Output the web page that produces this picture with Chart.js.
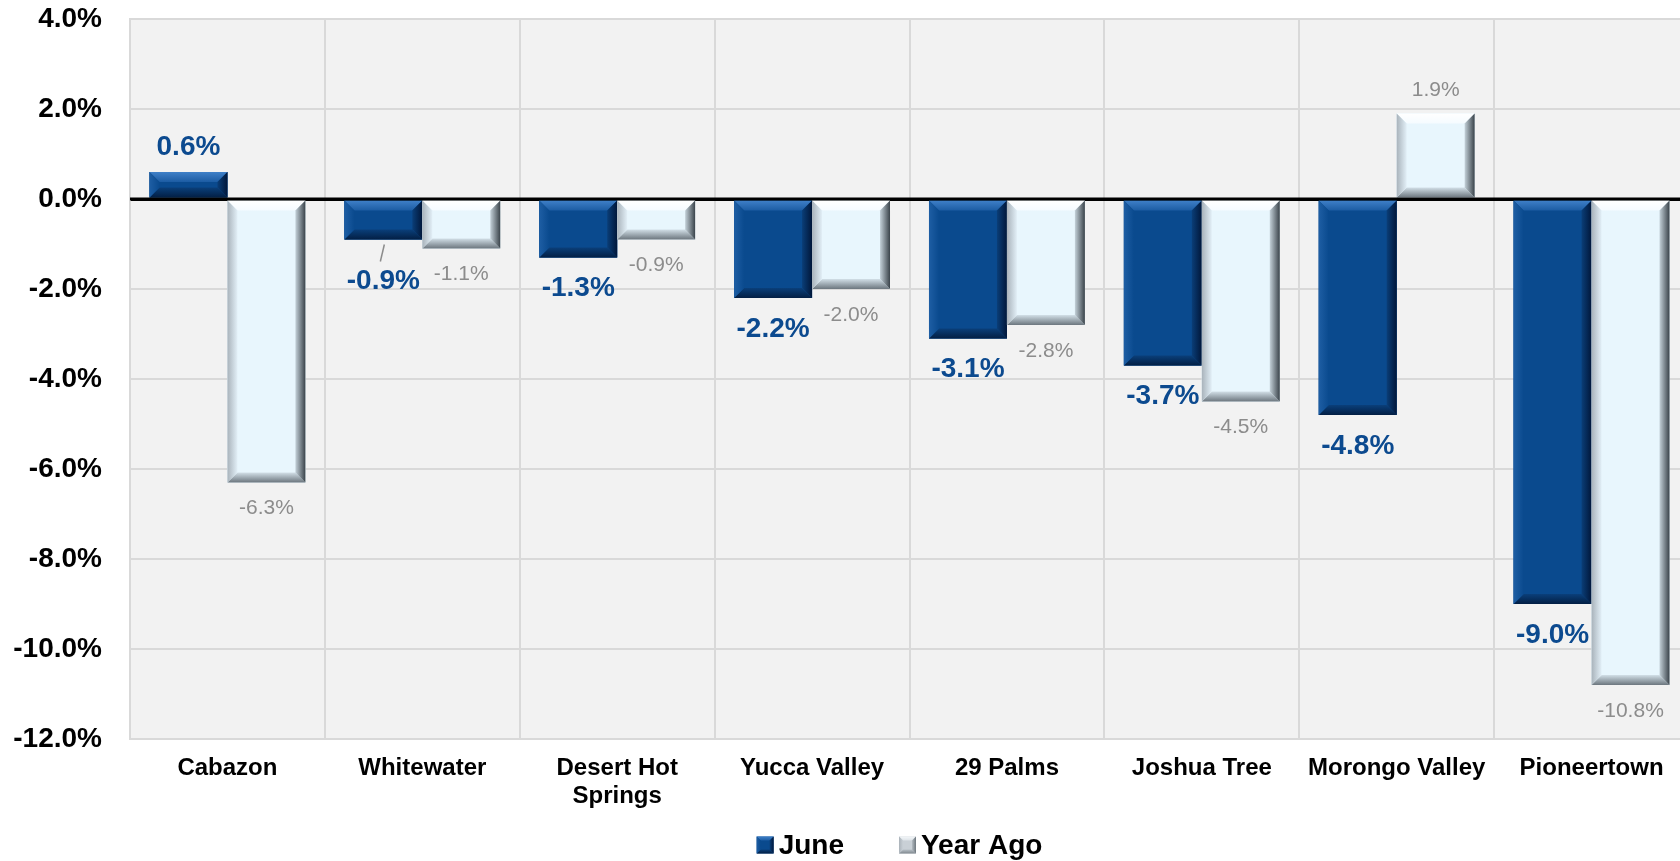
<!DOCTYPE html>
<html>
<head>
<meta charset="utf-8">
<title>June vs Year Ago</title>
<script src="https://cdn.jsdelivr.net/npm/chart.js@4/dist/chart.umd.min.js"></script>
<style>
  html, body { margin: 0; padding: 0; background: #fff; overflow: hidden; }
  #wrap { width: 1689px; height: 861px; }
</style>
</head>
<body>
<div id="wrap"><canvas id="chart" width="1689" height="861"></canvas></div>
<script>
/* Data */
const categories = ["Cabazon", "Whitewater", ["Desert Hot", "Springs"], "Yucca Valley", "29 Palms", "Joshua Tree", "Morongo Valley", "Pioneertown"];
const juneValues = [0.6, -0.9, -1.3, -2.2, -3.1, -3.7, -4.8, -9.0];
const yearAgoValues = [-6.3, -1.1, -0.9, -2.0, -2.8, -4.5, 1.9, -10.8];
const seriesNames = ["June", "Year Ago"];
const yTicks = [4, 2, 0, -2, -4, -6, -8, -10, -12];

const FONT = "'Liberation Sans', Arial, sans-serif";

// bevel palettes: [edge colour, inner colour] per side
const palettes = [
  {
    fill: "#0a4a8e",
    top: ["#3f80c8", "#1c5ca3"],
    left: ["#1e5ea4", "#0a4a8e"],
    right: ["#01173a", "#0a3e78"],
    bottom: ["#031f44", "#0a3f7a"],
  },
  {
    fill: "#e8f6fd",
    top: ["#ffffff", "#f5fbff"],
    left: ["#a9b3bb", "#e2eff7"],
    right: ["#3a434a", "#c4d1d9"],
    bottom: ["#6c767e", "#d2dfe7"],
  },
];

function drawBevel(ctx, l, t, r, b, s, pal) {
  s = Math.min(s, (r - l) / 2, (b - t) / 2);
  ctx.save();
  ctx.fillStyle = pal.fill;
  ctx.fillRect(l, t, r - l, b - t);
  const sides = [
    { pts: [[l, t], [r, t], [r - s, t + s], [l + s, t + s]], g: [0, t, 0, t + s], c: pal.top },
    { pts: [[l, b], [r, b], [r - s, b - s], [l + s, b - s]], g: [0, b, 0, b - s], c: pal.bottom },
    { pts: [[l, t], [l + s, t + s], [l + s, b - s], [l, b]], g: [l, 0, l + s, 0], c: pal.left },
    { pts: [[r, t], [r - s, t + s], [r - s, b - s], [r, b]], g: [r, 0, r - s, 0], c: pal.right },
  ];
  sides.forEach((sd) => {
    const grad = ctx.createLinearGradient(sd.g[0], sd.g[1], sd.g[2], sd.g[3]);
    grad.addColorStop(0, sd.c[0]);
    grad.addColorStop(1, sd.c[1]);
    ctx.fillStyle = grad;
    ctx.beginPath();
    ctx.moveTo(sd.pts[0][0], sd.pts[0][1]);
    for (let k = 1; k < sd.pts.length; k++) ctx.lineTo(sd.pts[k][0], sd.pts[k][1]);
    ctx.closePath();
    ctx.fill();
  });
  ctx.restore();
}

const plotBackground = {
  id: "plotBackground",
  beforeDraw(chart) {
    const { ctx, chartArea: a } = chart;
    ctx.save();
    ctx.fillStyle = "#f2f2f2";
    ctx.fillRect(a.left, a.top, a.right - a.left, a.bottom - a.top);
    ctx.restore();
  },
};

const bevelBars = {
  id: "bevelBars",
  afterDatasetsDraw(chart) {
    const { ctx } = chart;
    chart.data.datasets.forEach((ds, di) => {
      chart.getDatasetMeta(di).data.forEach((bar) => {
        const p = bar.getProps(["x", "y", "base", "width"], true);
        const l = p.x - p.width / 2, r = p.x + p.width / 2;
        const t = Math.min(p.y, p.base), b = Math.max(p.y, p.base);
        drawBevel(ctx, l, t, r, b, 10, palettes[di]);
      });
    });
  },
};

const zeroLine = {
  id: "zeroLine",
  afterDatasetsDraw(chart) {
    const { ctx, chartArea: a } = chart;
    const y = chart.scales.y.getPixelForValue(0);
    ctx.save();
    ctx.strokeStyle = "#000";
    ctx.lineWidth = 3;
    ctx.beginPath();
    ctx.moveTo(a.left, y);
    ctx.lineTo(a.right, y);
    ctx.stroke();
    ctx.restore();
  },
};

const valueLabels = {
  id: "valueLabels",
  afterDatasetsDraw(chart, args, opts) {
    const { ctx } = chart;
    ctx.save();
    ctx.textAlign = "center";
    ctx.textBaseline = "middle";
    chart.data.datasets.forEach((ds, di) => {
      const st = opts.styles[di];
      chart.getDatasetMeta(di).data.forEach((bar, i) => {
        const v = ds.data[i];
        let y = v >= 0 ? bar.y - st.above : bar.y + st.below;
        const lead = opts.leaders.find((l) => l.dataset === di && l.index === i);
        if (lead) {
          y += lead.drop;
          ctx.strokeStyle = "#8c8c8c";
          ctx.lineWidth = 1.5;
          ctx.beginPath();
          ctx.moveTo(bar.x + 1, bar.y + 5);
          ctx.lineTo(bar.x - 3, bar.y + 22);
          ctx.stroke();
        }
        ctx.font = st.font;
        ctx.fillStyle = st.color;
        ctx.fillText(v.toFixed(1) + "%", bar.x, y);
      });
    });
    ctx.restore();
  },
};

const bevelLegend = {
  id: "bevelLegend",
  afterDraw(chart) {
    const { ctx, chartArea: a } = chart;
    ctx.save();
    ctx.font = "bold 28px " + FONT;
    ctx.textBaseline = "middle";
    ctx.fillStyle = "#000";
    const box = 17, gapText = 5, gapItem = 55;
    const items = chart.data.datasets.map((ds) => ({ text: ds.label, w: ctx.measureText(ds.label).width }));
    const total = items.reduce((s, it) => s + box + gapText + it.w, 0) + gapItem * (items.length - 1);
    let x = (a.left + a.right) / 2 - total / 2 - 10;
    const cy = chart.height - 16;
    items.forEach((it, i) => {
      const legPal = i === 0 ? palettes[0] : {
        fill: "#c9d0d6", top: ["#f4f7f9", "#dde3e8"], left: ["#aab2b9", "#c9d0d6"],
        right: ["#6d767d", "#b4bcc2"], bottom: ["#7f888f", "#b8c0c6"],
      };
      drawBevel(ctx, x, cy - box / 2, x + box, cy + box / 2, 4, legPal);
      ctx.fillStyle = "#000";
      ctx.fillText(it.text, x + box + gapText, cy + 1);
      x += box + gapText + it.w + gapItem;
    });
    ctx.restore();
  },
};

new Chart(document.getElementById("chart"), {
  type: "bar",
  data: {
    labels: categories,
    datasets: [
      { label: seriesNames[0], data: juneValues, backgroundColor: palettes[0].fill, borderWidth: 0 },
      { label: seriesNames[1], data: yearAgoValues, backgroundColor: palettes[1].fill, borderWidth: 0 },
    ],
  },
  options: {
    responsive: false,
    animation: false,
    categoryPercentage: 0.8,
    barPercentage: 1.0,
    layout: { padding: { top: 19, bottom: 50, left: 0, right: 0 } },
    plugins: {
      legend: { display: false },
      tooltip: { enabled: false },
      valueLabels: {
        styles: [
          { font: "bold 28px " + FONT, color: "#0c4a8f", above: 25, below: 31 },
          { font: "21px " + FONT, color: "#8c8c8c", above: 23, below: 26 },
        ],
        leaders: [{ dataset: 0, index: 1, drop: 11 }],
      },
    },
    scales: {
      x: {
        grid: { color: "#d9d9d9", lineWidth: 2, drawTicks: false, offset: true },
        border: { color: "#d9d9d9", width: 2 },
        ticks: {
          color: "#000",
          padding: 16,
          maxRotation: 0,
          autoSkip: false,
          font: { family: FONT, size: 24, weight: "bold", lineHeight: 1.15 },
        },
        afterFit: (s) => { s.height = 72; s.paddingLeft = 0; s.paddingRight = 0; },
      },
      y: {
        min: Math.min(...yTicks),
        max: Math.max(...yTicks),
        afterBuildTicks: (s) => { s.ticks = yTicks.map((v) => ({ value: v })); },
        grid: {
          color: (c) => (c.tick && c.tick.value === 0 ? "#000" : "#d9d9d9"),
          lineWidth: (c) => (c.tick && c.tick.value === 0 ? 3 : 2),
          drawTicks: false,
        },
        border: { color: "#d9d9d9", width: 2 },
        ticks: {
          color: "#000",
          padding: 28,
          font: { family: FONT, size: 28, weight: "bold" },
          callback: (v) => Number(v).toFixed(1) + "%",
        },
        afterFit: (s) => { s.width = 130; s.paddingTop = 0; s.paddingBottom = 0; },
      },
    },
  },
  plugins: [plotBackground, bevelBars, zeroLine, valueLabels, bevelLegend],
});
</script>
</body>
</html>
